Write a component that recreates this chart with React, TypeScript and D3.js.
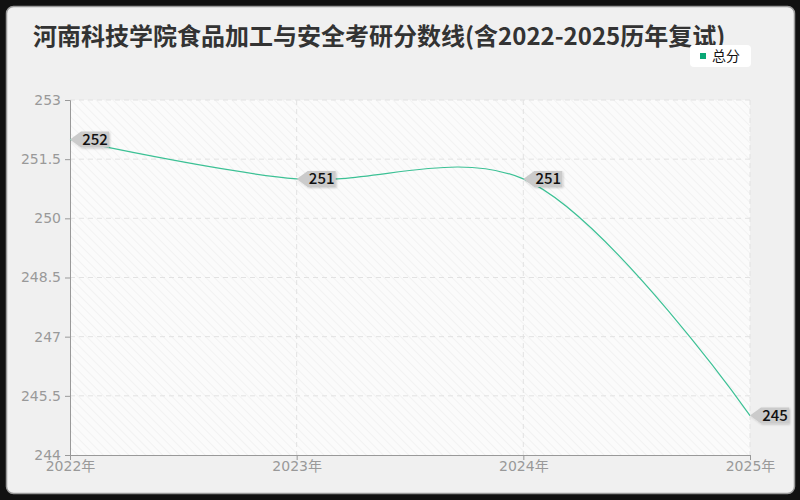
import React, { useEffect, useRef } from 'react'
import * as d3 from 'd3'

// chart data
const years = ['2022年', '2023年', '2024年', '2025年']
const scores = [252, 251, 251, 245]
const yTicks = [244, 245.5, 247, 248.5, 250, 251.5, 253]
const title = '河南科技学院食品加工与安全考研分数线(含2022-2025历年复试)'
const seriesName = '总分'

const FONT = '"DejaVu Sans", "Noto Sans CJK SC", sans-serif'
const CJK = '"Noto Sans CJK SC", sans-serif'

const App: React.FC = () => {
  const ref = useRef<SVGSVGElement | null>(null)

  useEffect(() => {
    document.body.style.margin = '0'
    if (!ref.current) return
    const svg = d3.select(ref.current)
    svg.selectAll('*').remove()

    const margin = { top: 100, right: 50, bottom: 45, left: 70 }
    const W = 800, H = 500
    const width = W - margin.left - margin.right
    const height = H - margin.top - margin.bottom

    // background frame
    svg.append('rect').attr('width', W).attr('height', H).attr('fill', '#111')
    svg.append('rect')
      .attr('x', 6.5).attr('y', 6.5).attr('width', 788).attr('height', 487)
      .attr('rx', 7).attr('fill', '#f0f0f0').attr('stroke', '#9a9a9a').attr('stroke-width', 1.5)

    // hatch pattern
    const defs = svg.append('defs')
    const pat = defs.append('pattern')
      .attr('id', 'hatch').attr('patternUnits', 'userSpaceOnUse')
      .attr('width', 6).attr('height', 6)
      .attr('patternTransform', 'rotate(-45)')
    pat.append('rect').attr('width', 6).attr('height', 6).attr('fill', '#fbfbfb')
    pat.append('line').attr('x1', 0).attr('y1', 0).attr('x2', 0).attr('y2', 6)
      .attr('stroke', '#efefef').attr('stroke-width', 1.5)
    const shadow = defs.append('filter').attr('id', 'shadow')
      .attr('x', '-20%').attr('y', '-20%').attr('width', '150%').attr('height', '160%')
    shadow.append('feDropShadow').attr('dx', 1).attr('dy', 1).attr('stdDeviation', 1)
      .attr('flood-color', '#000').attr('flood-opacity', 0.2)

    // title
    svg.append('text')
      .attr('x', 33).attr('y', 45)
      .attr('font-family', CJK).attr('font-size', 24).attr('font-weight', 'bold')
      .attr('fill', '#333')
      .text(title)

    // legend
    const lg = svg.append('g').attr('transform', 'translate(690,45)')
    lg.append('rect').attr('width', 61).attr('height', 22).attr('rx', 4).attr('fill', '#fff')
    lg.append('rect').attr('x', 10).attr('y', 8).attr('width', 6).attr('height', 6).attr('fill', '#0aa876')
    lg.append('text').attr('x', 22).attr('y', 16)
      .attr('font-family', CJK).attr('font-size', 14).attr('fill', '#111')
      .text(seriesName)

    const g = svg.append('g').attr('transform', `translate(${margin.left},${margin.top})`)

    const x = d3.scalePoint<string>().domain(years).range([0, width])
    const y = d3.scaleLinear().domain([244, 253]).range([height, 0])

    g.append('rect').attr('width', width).attr('height', height).attr('fill', 'url(#hatch)')

    // grid
    g.selectAll('.hgrid').data(yTicks.slice(1)).join('line')
      .attr('x1', 0).attr('x2', width)
      .attr('y1', d => y(d)).attr('y2', d => y(d))
      .attr('stroke', '#e2e2e2').attr('stroke-dasharray', '5,4')
    g.selectAll('.vgrid').data(years.slice(1)).join('line')
      .attr('x1', d => x(d)!).attr('x2', d => x(d)!)
      .attr('y1', 0).attr('y2', height)
      .attr('stroke', '#e2e2e2').attr('stroke-dasharray', '5,4')

    // axes
    const yAxis = g.append('g')
      .call(d3.axisLeft(y).tickValues(yTicks).tickSize(5).tickPadding(4).tickFormat(d => String(d)))
    const xAxis = g.append('g').attr('transform', `translate(0,${height})`)
      .call(d3.axisBottom(x).tickSize(5).tickPadding(1))
    for (const ax of [yAxis, xAxis]) {
      ax.select('.domain').attr('stroke', '#999')
      ax.selectAll('.tick line').attr('stroke', '#999')
      ax.selectAll('text')
        .attr('font-family', FONT).attr('font-size', 14).attr('fill', '#999')
    }

    // line
    const line = d3.line<number>()
      .x((_, i) => x(years[i])!)
      .y(d => y(d))
      .curve(d3.curveCatmullRom.alpha(0.5))
    g.append('path').datum(scores)
      .attr('d', line)
      .attr('fill', 'none').attr('stroke', '#3cc195').attr('stroke-width', 1.2)

    // value tags
    const tags = g.selectAll('.tag').data(scores).join('g')
      .attr('transform', (d, i) => `translate(${x(years[i])},${y(d)})`)
    tags.append('path')
      .attr('d', 'M0,0 L11,-8 L39,-8 L39,8 L11,8 Z')
      .attr('fill', '#cbcbcb').attr('filter', 'url(#shadow)')
    tags.append('text')
      .attr('x', 25).attr('y', 5.5)
      .attr('text-anchor', 'middle')
      .attr('font-family', CJK).attr('font-size', 15).attr('font-weight', 500)
      .attr('fill', '#111')
      .text(d => String(d))
  }, [])

  return <svg ref={ref} width={800} height={500} style={{ display: 'block' }} />
}

export default App
